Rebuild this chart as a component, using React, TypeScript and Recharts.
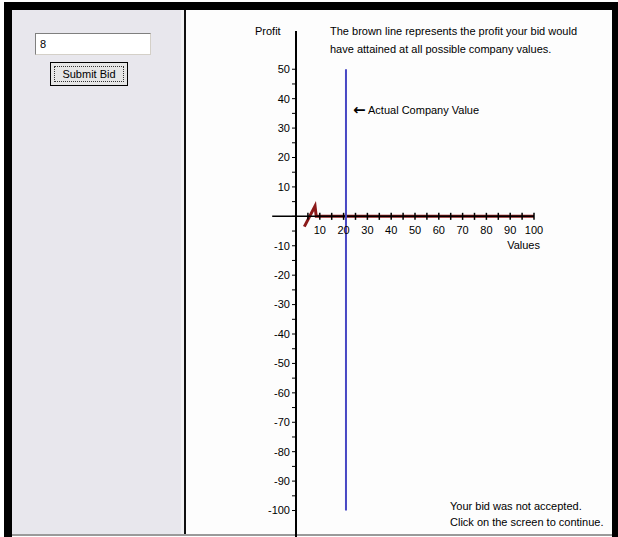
import React from 'react';
import { LineChart, Line, XAxis, YAxis, ReferenceLine, ReferenceDot } from 'recharts';

// profit curve for the submitted bid
const companyValues = [3.5, 8, 8.5, 100];
const profits = [-3.5, 3.5, 0, 0];
const actualValue = 21;
const bidText = '8';

const yTicks = [-100, -95, -90, -85, -80, -75, -70, -65, -60, -55, -50, -45, -40, -35, -30, -25, -20, -15, -10, -5, 0, 5, 10, 15, 20, 25, 30, 35, 40, 45, 50];
const xTicks = [5, 10, 15, 20, 25, 30, 35, 40, 45, 50, 55, 60, 65, 70, 75, 80, 85, 90, 95, 100];
const xLabels = [10, 20, 30, 40, 50, 60, 70, 80, 90, 100];

const data = companyValues.map((v, i) => ({ v, p: profits[i] }));

const FONT = '"Liberation Sans", Arial, sans-serif';

const abs = (s: React.CSSProperties): React.CSSProperties => ({ position: 'absolute', ...s });

export default function App() {
  return (
    <div style={abs({ left: 0, top: 0, width: 618, height: 537, background: '#fff', overflow: 'hidden', fontFamily: FONT, fontSize: 11, color: '#000' })}>
      {/* frame */}
      <div style={abs({ left: 12, top: 10, width: 169, height: 524, background: '#e8e7ed' })} />
      <div style={abs({ left: 181, top: 10, width: 3, height: 524, background: '#f2f2f4' })} />
      <div style={abs({ left: 184, top: 10, width: 2, height: 526, background: '#111' })} />
      <div style={abs({ left: 186, top: 10, width: 426, height: 524, background: '#fdfdfd' })} />
      <div style={abs({ left: 4, top: 2, width: 614, height: 8, background: '#000' })} />
      <div style={abs({ left: 4, top: 2, width: 8, height: 535, background: '#000' })} />
      <div style={abs({ left: 612, top: 2, width: 6, height: 535, background: '#000' })} />
      <div style={abs({ left: 12, top: 534, width: 600, height: 2, background: '#9a9a9a' })} />

      {/* bid form */}
      <div style={abs({ left: 35, top: 33, width: 110, height: 20, background: '#fff', border: '1px solid', borderColor: '#7f7f7f #d4d0c8 #d4d0c8 #7f7f7f', lineHeight: '20px', paddingLeft: 4, boxSizing: 'content-box' })}>
        {bidText}
      </div>
      <div style={abs({ left: 50, top: 62, width: 76, height: 22, background: '#e6e6e6', border: '1px solid #000', boxSizing: 'content-box' })}>
        <div style={abs({ left: 3, top: 3, width: 68, height: 14, border: '1px dotted #333', textAlign: 'center', lineHeight: '14px' })}>Submit Bid</div>
      </div>

      <LineChart width={618} height={537} data={data} margin={{ top: 31, right: 84, bottom: 0, left: 256 }} style={{ position: 'absolute', left: 0, top: 0 }}>
        <XAxis type="number" dataKey="v" domain={[0, 100]} hide allowDataOverflow />
        <YAxis
          type="number"
          domain={[-109, 63]}
          ticks={yTicks}
          interval={0}
          width={40}
          allowDataOverflow
          axisLine={{ stroke: '#000', strokeWidth: 2 }}
          tickLine={{ stroke: '#000' }}
          tickSize={4}
          tickMargin={2}
          tick={{ fontSize: 11, fill: '#000', fontFamily: FONT }}
          tickFormatter={(t: number) => (t % 10 === 0 && t !== 0 ? String(t) : '')}
        />
        <Line dataKey="p" stroke="#8b1a1a" strokeWidth={3} dot={false} isAnimationActive={false} />
        <ReferenceLine segment={[{ x: -10, y: 0 }, { x: 100, y: 0 }]} stroke="#000" strokeWidth={1.5} ifOverflow="visible" />
        {xTicks.map(t => (
          <ReferenceLine key={'t' + t} segment={[{ x: t, y: -1.2 }, { x: t, y: 1.2 }]} stroke="#000" strokeWidth={1.5} />
        ))}
        {xLabels.map(t => (
          <ReferenceDot key={'l' + t} x={t} y={0} r={0} fill="none" stroke="none"
            label={{ value: String(t), position: 'bottom', offset: 10, fontSize: 11, fill: '#000', fontFamily: FONT }} />
        ))}
        <ReferenceLine segment={[{ x: actualValue, y: 50 }, { x: actualValue, y: -100 }]} stroke="#4848c4" strokeWidth={2} />
      </LineChart>

      {/* annotations */}
      <div style={abs({ left: 255, top: 25 })}>Profit</div>
      <div style={abs({ left: 330, top: 22, lineHeight: '18px', whiteSpace: 'nowrap' })}>
        The brown line represents the profit your bid would<br />have attained at all possible company values.
      </div>
      <div style={abs({ left: 353, top: 101, whiteSpace: 'nowrap' })}>
        <span style={{ fontWeight: 'bold', fontSize: 15, fontFamily: '"DejaVu Sans", sans-serif', verticalAlign: '-1px' }}>←</span> Actual Company Value
      </div>
      <div style={abs({ left: 500, top: 239, width: 40, textAlign: 'right' })}>Values</div>
      <div style={abs({ left: 450, top: 498, lineHeight: '16px', whiteSpace: 'nowrap' })}>
        Your bid was not accepted.<br />Click on the screen to continue.
      </div>
    </div>
  );
}
